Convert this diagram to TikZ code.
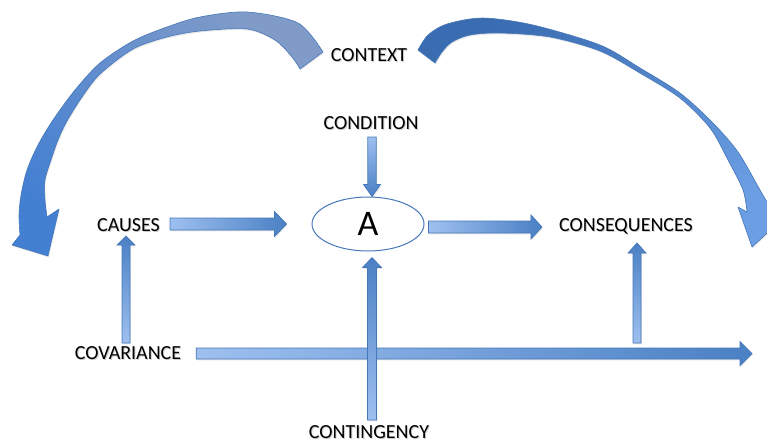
\documentclass[tikz,border=0pt]{standalone}
\usepackage{fontspec}
\setmainfont{Carlito}
\usetikzlibrary{calc,shapes.geometric,shadows}

\definecolor{arrLight}{RGB}{158,192,240}
\definecolor{arrDark}{RGB}{74,128,196}
\definecolor{arrLine}{RGB}{70,120,185}
\definecolor{ctxGrey}{RGB}{128,155,200}
\definecolor{ctxBlue}{RGB}{68,128,210}
\definecolor{ctxDeep}{RGB}{58,108,178}
\definecolor{ctxSky}{RGB}{108,158,228}

\tikzset{
  lbl/.style={inner sep=0pt, text height=12.8pt, text depth=0pt,
    font=\fontsize{20}{24}\selectfont, text=black},
  lblshadow/.style={lbl, text=black!40, opacity=0.5},
  blockarrow/.style={draw=arrLine, line width=0.7pt, line join=miter,
    drop shadow={shadow xshift=0.8pt, shadow yshift=-1.4pt, opacity=0.2}},
  hright/.style={left color=arrLight, right color=arrDark},
  vup/.style={bottom color=arrLight, top color=arrDark},
  vdown/.style={top color=arrLight, bottom color=arrDark},
  bentarrow/.style={draw=arrLine, line width=0.6pt, line join=round,
    drop shadow={shadow xshift=0.8pt, shadow yshift=-1.4pt, opacity=0.18}},
}

% label with a soft offset shadow behind it
\newcommand\wordnode[3]{%
  \node[lblshadow] at ($#2+(1,1)$) {#3};
  \node[lbl] (#1) at #2 {#3};}

% straight block arrow: [shading] {tail} {tip} {half shaft} {half head} {head length}
\newcommand\blockarrow[6][]{%
  \coordinate (ba-n) at ($#3!#6!#2$);
  \path[blockarrow,#1] ($#2!#4!90:#3$) -- ($(ba-n)!#4!90:#3$)
    -- ($(ba-n)!#5!90:#3$) -- #3 -- ($(ba-n)!#5!-90:#3$)
    -- ($(ba-n)!#4!-90:#3$) -- ($#2!#4!-90:#3$) -- cycle;}

\begin{document}
\begin{tikzpicture}[x=1pt,y=-1pt]
\useasboundingbox (0,0) rectangle (767,445);

% ---- curved context arrows ----
\begin{scope}
\clip (0,0) rectangle (767,445);
\path[bentarrow, top color=ctxGrey, bottom color=ctxBlue, shading angle=-45]
  plot[smooth] coordinates {(323,52) (298,23) (247,12) (200,17) (167,27)
    (133,41) (100,63) (75,90) (53,120) (38,145) (27,170) (21,195) (19,215) (20,235)}
  -- (12,245) -- (48,256) -- (59,209)
  -- plot[smooth] coordinates {(47,217) (45,200) (45,180) (51,160) (58,140)
    (67,121) (82,97) (100,74) (133,49) (167,37) (200,31) (247,29) (275,40) (292,57) (300,69)}
  -- cycle;
\path[bentarrow, top color=ctxDeep, bottom color=ctxSky, shading angle=45]
  plot[smooth] coordinates {(418,50) (428,35) (447,24) (483,18) (533,25)
    (600,45) (640,68) (680,93) (712,122) (738,152) (760,190) (770,207)}
  -- (790,212) -- (752,247) -- (738,207)
  -- plot[smooth] coordinates {(747,212) (743,190) (728,160) (710,128)
    (680,98) (640,73) (600,51) (550,37) (500,33) (470,35) (452,42) (442,52) (435,63)}
  -- cycle;
\end{scope}

% ---- labels ----
\wordnode{context}{(369,55)}{CONTEXT}
\wordnode{cond}{(371,123)}{CONDITION}
\wordnode{causes}{(128.5,225)}{CAUSES}
\wordnode{conseq}{(626,225)}{CONSEQUENCES}
\wordnode{cov}{(128,353)}{COVARIANCE}
\wordnode{cont}{(369,432.5)}{CONTINGENCY}

\node[ellipse, draw=arrLine, line width=1pt, fill=white, minimum width=112pt,
  minimum height=54pt, inner sep=0pt, font=\fontsize{36}{40}\selectfont] (A) at (368,224) {A};

% ---- arrow end points ----
\coordinate (c7s) at ($(cov.east)+(15,0.5)$);
\coordinate (drift) at (752,353.5);
\coordinate (c4t) at ($(conseq.center)+(11,18)$);
\coordinate (c4s) at ($(cov.center -| c4t)+(0,-10)$);
\coordinate (c2s) at ($(cont.center)+(3,-12.5)$);
\coordinate (c2t) at ($(A.south -| c2s)+(0,6)$);
\coordinate (c3s) at ($(cov.center)+(-2,-10)$);
\coordinate (c3t) at ($(causes.center)+(-2.5,11)$);
\coordinate (c5s) at ($(causes.east)+(10,-1)$);
\coordinate (c5t) at ($(A.west)+(-25,0)$);
\coordinate (c6s) at ($(A.east)+(4,3)$);
\coordinate (c6t) at ($(c6s -| conseq.west)+(-17,0)$);
\coordinate (c1s) at ($(cond.center)+(1,14)$);
\coordinate (c1t) at (A.north -| c1s);

% ---- straight block arrows ----
\blockarrow[hright]{(c7s)}{(drift)}{5.5pt}{12pt}{12pt}
\blockarrow[vup]{(c4s)}{(c4t)}{4pt}{9pt}{10pt}
\blockarrow[vup]{(c2s)}{(c2t)}{4.5pt}{9.5pt}{10pt}
\blockarrow[vup]{(c3s)}{(c3t)}{4pt}{9pt}{9pt}
\blockarrow[hright]{(c5s)}{(c5t)}{6pt}{12.5pt}{12pt}
\blockarrow[hright]{(c6s)}{(c6t)}{6pt}{12pt}{11pt}
\blockarrow[vdown]{(c1s)}{(c1t)}{4.2pt}{8.5pt}{12pt}
\end{tikzpicture}
\end{document}
